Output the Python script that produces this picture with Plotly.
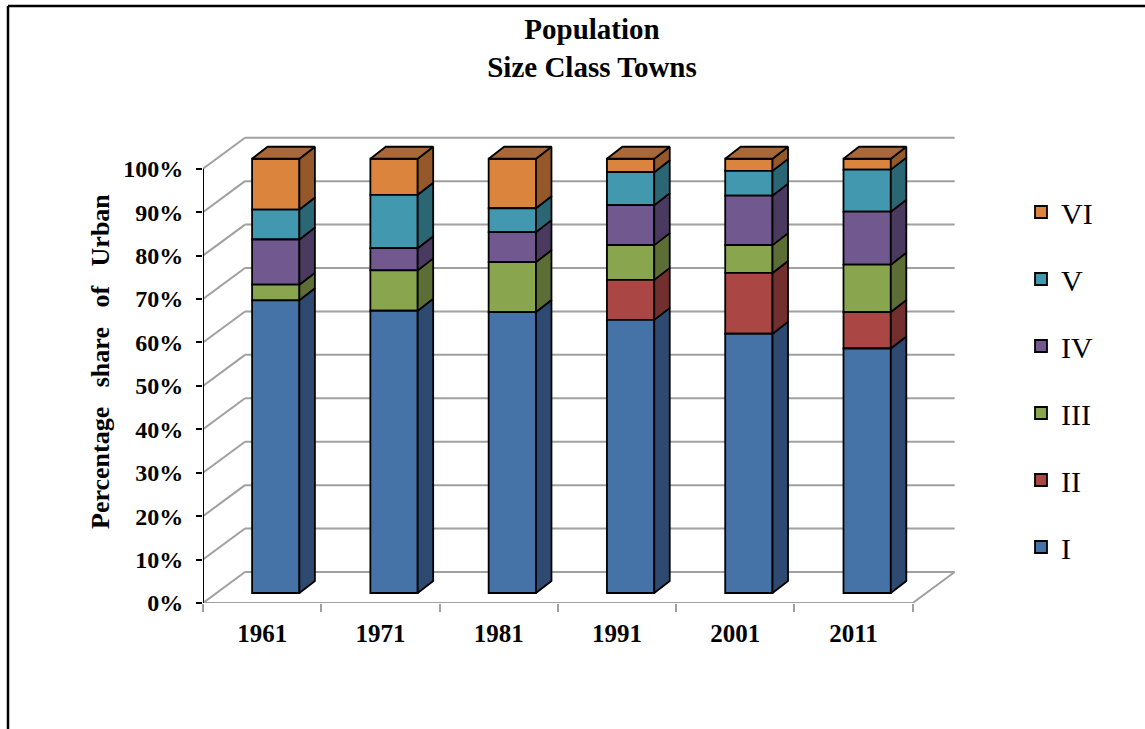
import plotly.graph_objects as go

# ---------------- data ----------------
years = ["1961", "1971", "1981", "1991", "2001", "2011"]
class_I = [67.4, 65.0, 64.7, 62.9, 59.7, 56.3]
class_II = [0, 0, 0, 9.2, 14.0, 8.4]
class_III = [3.6, 9.3, 11.5, 8.0, 6.4, 10.9]
class_IV = [10.4, 5.1, 6.9, 9.2, 11.4, 12.2]
class_V = [6.9, 12.3, 5.5, 7.6, 5.7, 9.7]
class_VI = [11.7, 8.3, 11.4, 3.1, 2.8, 2.5]
y_ticks = [0, 10, 20, 30, 40, 50, 60, 70, 80, 90, 100]
y_ticktext = [f"{v}%" for v in y_ticks]

series = [
    ("I", class_I, "#4572A7", "#2E4A70"),
    ("II", class_II, "#AA4643", "#722F2D"),
    ("III", class_III, "#89A54E", "#5C6E35"),
    ("IV", class_IV, "#71588F", "#4B3A5F"),
    ("V", class_V, "#4198AF", "#2B6675"),
    ("VI", class_VI, "#DB843D", "#94582A"),
]
TOP_FACE = "#A8683A"

# ---------------- geometry ----------------
W, H = 1145, 729
ML, MR, MT, MB = 203, 185, 134, 126
n = len(years)
XMAX, YMAX = 6.4, 108
pw, ph = W - ML - MR, H - MT - MB
px_x, px_y = pw / XMAX, ph / YMAX

FX, FY = 0.115, 10 / px_y          # bar front plane offset
BX, BY = 15.5 / px_x, 12 / px_y     # bar depth
WX, WY = 42 / px_x, 31 / px_y       # back wall offset
BW = 0.40

FONT = "Liberation Serif"


def paper_x(p):
    return (p - ML) / pw


def paper_y(p):
    return (H - MB - p) / ph


# stacked bases
bases = []
cum = [0.0] * n
for name, vals, col, side in series:
    bases.append(list(cum))
    cum = [cum[i] + vals[i] for i in range(n)]
totals = cum

fig = go.Figure()

# front faces (added top series first so legend lists VI .. I)
for (name, vals, col, side), base in reversed(list(zip(series, bases))):
    fig.add_trace(go.Bar(
        x=[i + 0.5 + FX for i in range(n)],
        y=[v if v > 0 else None for v in vals],
        base=[base[i] + FY for i in range(n)],
        width=BW,
        marker=dict(color=col, line=dict(color="black", width=1.8)),
        name=name, legendgroup=name,
        hoverinfo="skip",
    ))

# side faces
for (name, vals, col, side), base in zip(series, bases):
    xs, ys = [], []
    for i, v in enumerate(vals):
        if v <= 0:
            continue
        xr = i + 0.5 + FX + BW / 2
        b = base[i] + FY
        t = b + v
        xs += [xr, xr + BX, xr + BX, xr, xr, None]
        ys += [b, b + BY, t + BY, t, b, None]
    fig.add_trace(go.Scatter(
        x=xs, y=ys, mode="lines", fill="toself", fillcolor=side,
        line=dict(color="black", width=1.8), showlegend=False, hoverinfo="skip",
    ))

# top faces
xs, ys = [], []
for i in range(n):
    xl = i + 0.5 + FX - BW / 2
    xr = xl + BW
    T = totals[i] + FY
    xs += [xl, xl + BX, xr + BX, xr, xl, None]
    ys += [T, T + BY, T + BY, T, T, None]
fig.add_trace(go.Scatter(
    x=xs, y=ys, mode="lines", fill="toself", fillcolor=TOP_FACE,
    line=dict(color="black", width=1.8), showlegend=False, hoverinfo="skip",
))

# ---------------- grid / walls ----------------
GRID = "#A0A0A0"
shapes = []
for v in y_ticks:
    shapes.append(dict(type="line", xref="x", yref="y", layer="below",
                       x0=WX, y0=v + WY, x1=n + WX, y1=v + WY,
                       line=dict(color=GRID, width=2)))
    shapes.append(dict(type="line", xref="x", yref="y", layer="below",
                       x0=0, y0=v, x1=WX, y1=v + WY,
                       line=dict(color=GRID, width=2)))
shapes.append(dict(type="line", xref="x", yref="y", layer="below",
                   x0=0, y0=0, x1=n, y1=0, line=dict(color=GRID, width=2)))
shapes.append(dict(type="line", xref="x", yref="y", layer="below",
                   x0=n, y0=0, x1=n + WX, y1=WY, line=dict(color=GRID, width=2)))
shapes.append(dict(type="line", xref="x", yref="y",
                   x0=0, y0=0, x1=0, y1=y_ticks[-1], line=dict(color="black", width=2)))
shapes.append(dict(type="line", xref="paper", yref="paper",
                   x0=paper_x(8), y0=paper_y(H), x1=paper_x(8), y1=paper_y(6),
                   line=dict(color="black", width=2.5)))
shapes.append(dict(type="line", xref="paper", yref="paper",
                   x0=paper_x(8), y0=paper_y(6), x1=paper_x(W), y1=paper_y(6),
                   line=dict(color="black", width=2.5)))

annotations = [
    dict(text="Percentage\u00a0\u00a0\u00a0share\u00a0\u00a0\u00a0of\u00a0\u00a0\u00a0Urban",
         xref="paper", yref="paper",
         x=paper_x(100), y=paper_y(361), xanchor="center", yanchor="middle",
         textangle=-90, showarrow=False,
         font=dict(family=FONT, size=26, color="black", weight="bold")),
]

fig.update_layout(
    width=W, height=H,
    margin=dict(l=ML, r=MR, t=MT, b=MB),
    paper_bgcolor="white", plot_bgcolor="white",
    title=dict(text="Population<br>Size Class Towns",
               x=592 / W, xanchor="center", xref="container",
               y=1 - 39 / H, yanchor="middle", yref="container",
               font=dict(family=FONT, size=29, color="black", weight="bold")),
    barmode="overlay",
    shapes=shapes, annotations=annotations,
    showlegend=True,
    legend=dict(x=paper_x(1021), xanchor="left", y=paper_y(186), yanchor="top",
                traceorder="grouped", tracegroupgap=25,
                font=dict(family=FONT, size=30, color="black"),
                bgcolor="rgba(0,0,0,0)"),
    xaxis=dict(range=[0, XMAX], tickmode="array",
               tickvals=[i + 0.5 for i in range(n)], ticktext=years,
               ticks="", showgrid=False, zeroline=False, showline=False,
               tickfont=dict(family=FONT, size=25, color="black", weight="bold"),
               ticklabelstandoff=13,
               minor=dict(tickmode="array", tickvals=list(range(n + 1)),
                          ticks="outside", ticklen=8, tickwidth=2, tickcolor=GRID,
                          showgrid=False)),
    yaxis=dict(range=[0, YMAX], tickmode="array", tickvals=y_ticks, ticktext=y_ticktext,
               ticks="outside", ticklen=6, tickwidth=2, tickcolor="black",
               showgrid=False, zeroline=False, showline=False,
               tickfont=dict(family=FONT, size=24, color="black", weight="bold"),
               ticklabelstandoff=8),
)

fig.write_html("out.html")
